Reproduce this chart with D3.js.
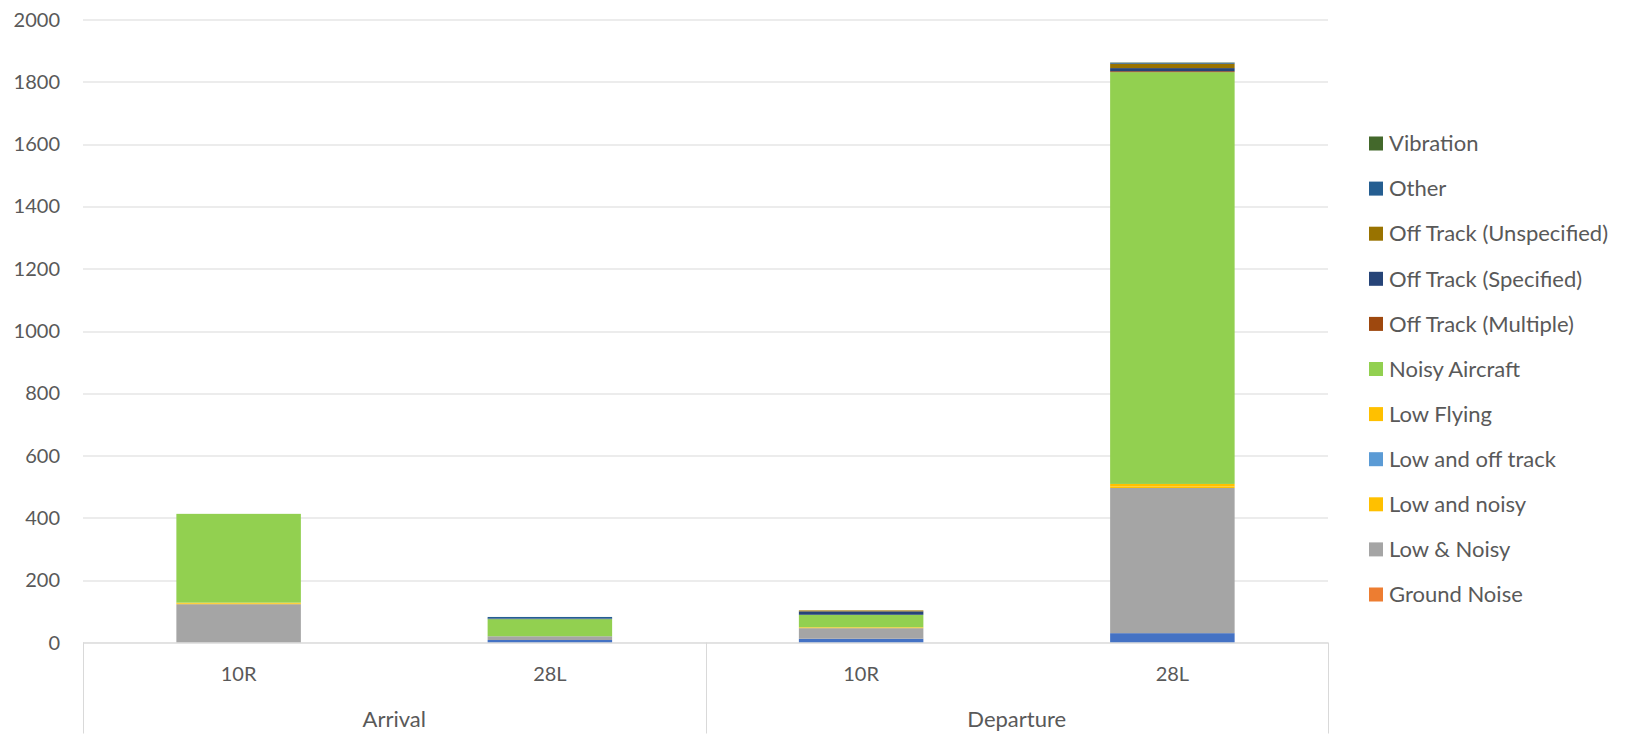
<!DOCTYPE html>
<html>
<head>
<meta charset="utf-8">
<script src="https://cdn.jsdelivr.net/npm/d3@7"></script>
<style>
  body { margin: 0; background: #fff; }
  text { font-family: Lato, "Open Sans", sans-serif; fill: #595959; }
</style>
</head>
<body>
<div id="chart"></div>
<script>
// data
var runways = ["10R", "28L", "10R", "28L"];
var operations = ["Arrival", "Departure"];
var opOfBar = ["Arrival", "Arrival", "Departure", "Departure"];

// stack order, bottom to top
var seriesNames = ["(blank)", "Ground Noise", "Low & Noisy", "Low and noisy", "Low and off track",
    "Low Flying", "Noisy Aircraft", "Off Track (Multiple)", "Off Track (Specified)",
    "Off Track (Unspecified)", "Other", "Vibration"];

var blank         = [0, 8, 12, 30];
var groundNoise   = [0, 0, 0, 0];
var lowAndNoisyA  = [123, 12, 34, 466];
var lowAndNoisyB  = [2, 0, 2, 5];
var lowOffTrack   = [0, 0, 0, 0];
var lowFlying     = [3, 0, 1, 8];
var noisyAircraft = [285, 55, 40, 1322];
var offMultiple   = [0, 0, 0, 3];
var offSpecified  = [0, 2, 11, 10];
var offUnspec     = [0, 0, 3, 14];
var other         = [0, 5, 0, 3];
var vibration     = [0, 0, 0, 1];

var yTicks = [0, 200, 400, 600, 800, 1000, 1200, 1400, 1600, 1800, 2000];

var seriesValues = [blank, groundNoise, lowAndNoisyA, lowAndNoisyB, lowOffTrack, lowFlying,
    noisyAircraft, offMultiple, offSpecified, offUnspec, other, vibration];
var seriesColors = ["#4472C4", "#ED7D31", "#A5A5A5", "#FFC000", "#5B9BD5", "#FFC000",
    "#92D050", "#9E480E", "#264478", "#997300", "#255E91", "#43682B"];

var width = 1629, height = 735;
var margin = { left: 83, right: 301, top: 19.5, bottom: 92.5 };
var plotW = width - margin.left - margin.right;
var plotH = height - margin.top - margin.bottom;

var svg = d3.select('#chart').append('svg')
    .attr('width', width)
    .attr('height', height);

var g = svg.append('g')
    .attr('transform', 'translate(' + margin.left + ',' + margin.top + ')');

// table for the stack
var rows = runways.map(function (r, i) {
    var row = { idx: i };
    seriesNames.forEach(function (s, k) { row[s] = seriesValues[k][i]; });
    return row;
});

var x = d3.scaleBand()
    .domain(d3.range(runways.length))
    .range([0, plotW])
    .paddingInner(0.6)
    .paddingOuter(0.3);

var y = d3.scaleLinear()
    .domain([0, 2000])
    .range([plotH, 0]);

// gridlines
g.selectAll('.grid')
    .data(yTicks)
    .enter().append('line')
    .attr('x1', 0).attr('x2', plotW)
    .attr('y1', d => Math.round(y(d)) + 0.5)
    .attr('y2', d => Math.round(y(d)) + 0.5)
    .attr('stroke', '#D9D9D9')
    .attr('stroke-width', 1);

// y labels
g.selectAll('.ylab')
    .data(yTicks)
    .enter().append('text')
    .attr('x', -23)
    .attr('y', d => y(d))
    .attr('dy', '0.35em')
    .attr('text-anchor', 'end')
    .style('font-size', '20px')
    .text(d => d);

// stacked bars
var stack = d3.stack().keys(seriesNames);
var layers = stack(rows);

g.selectAll('.layer')
    .data(layers)
    .enter().append('g')
    .attr('fill', (d, i) => seriesColors[i])
    .selectAll('rect')
    .data(d => d)
    .enter().append('rect')
    .attr('x', d => x(d.data.idx))
    .attr('width', x.bandwidth())
    .attr('y', d => y(d[1]))
    .attr('height', d => y(d[0]) - y(d[1]));

// category axis (two levels)
var axisCol = '#D9D9D9';
g.append('line')
    .attr('x1', 0).attr('x2', plotW)
    .attr('y1', plotH + 0.5).attr('y2', plotH + 0.5)
    .attr('stroke', axisCol);

var sepX = [0, x.step() * 2, plotW];
g.selectAll('.sep')
    .data(sepX)
    .enter().append('line')
    .attr('x1', d => Math.round(d) + 0.5).attr('x2', d => Math.round(d) + 0.5)
    .attr('y1', plotH).attr('y2', plotH + 91)
    .attr('stroke', axisCol);

g.selectAll('.runway')
    .data(runways)
    .enter().append('text')
    .attr('x', (d, i) => x(i) + x.bandwidth() / 2)
    .attr('y', plotH + 31)
    .attr('dy', '0.35em')
    .attr('text-anchor', 'middle')
    .style('font-size', '20px')
    .text(d => d);

g.selectAll('.op')
    .data(operations)
    .enter().append('text')
    .attr('x', function (d) {
        var idx = d3.range(opOfBar.length).filter(i => opOfBar[i] === d);
        return (x(idx[0]) + x(idx[idx.length - 1]) + x.bandwidth()) / 2;
    })
    .attr('y', plotH + 77)
    .attr('dy', '0.35em')
    .attr('text-anchor', 'middle')
    .style('font-size', '22px')
    .text(d => d);

// legend (top = last series), no entry for the unlabeled bottom series
var legendItems = seriesNames.map((s, i) => ({ name: s, color: seriesColors[i] }))
    .filter(d => d.name !== '(blank)')
    .reverse();

var legend = svg.append('g')
    .attr('transform', 'translate(1369,143.5)');

var li = legend.selectAll('.li')
    .data(legendItems)
    .enter().append('g')
    .attr('transform', (d, i) => 'translate(0,' + (i * 45.1) + ')');

li.append('rect')
    .attr('x', 0).attr('y', -7)
    .attr('width', 14).attr('height', 14)
    .attr('fill', d => d.color);

li.append('text')
    .attr('x', 20)
    .attr('y', 0)
    .attr('dy', '0.35em')
    .style('font-size', '22px')
    .text(d => d.name);
</script>
</body>
</html>
